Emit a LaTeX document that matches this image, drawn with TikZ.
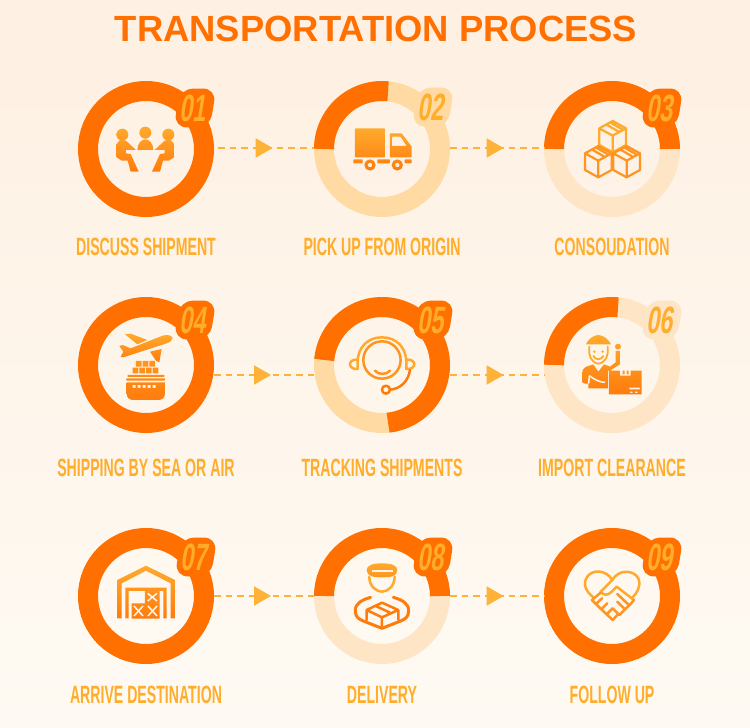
\documentclass[tikz,border=0pt]{standalone}
\usepackage{fontspec}
\setmainfont{Liberation Sans}
\newfontfamily\labelfont[FakeStretch=0.565]{Liberation Sans}
\newfontfamily\tagfont[FakeStretch=0.62]{Liberation Sans}
\usetikzlibrary{arrows.meta,positioning,decorations.markings}
\definecolor{hot}{HTML}{FF7000}
\definecolor{paleA}{HTML}{FFDAA3}
\definecolor{paleB}{HTML}{FDE5C6}
\definecolor{amber}{HTML}{FFAD2B}
\definecolor{flowcol}{HTML}{FFB238}
\definecolor{bgTop}{HTML}{FEF0E2}
\definecolor{bgBot}{HTML}{FEFAF3}
\definecolor{iconTop}{HTML}{FFAA2E}
\definecolor{iconMid}{HTML}{FF9520}
\definecolor{iconBot}{HTML}{FF7C0C}
\definecolor{cutcol}{HTML}{FEF5EB}

\begin{document}
\begin{tikzpicture}[
    x=1pt,y=-1pt,
    ring/.style={circle,draw=hot,line width=20pt,minimum size=116pt,inner sep=0pt},
    ringarc/.style={draw=hot,line width=20pt},
    tag/.style={font=\labelfont\bfseries\fontsize{25}{25}\selectfont,text=amber,inner sep=0pt},
    badge/.style={font=\tagfont\bfseries\fontsize{38}{38}\selectfont,text=amber,fill=hot,rounded corners=13pt,inner xsep=5pt,inner ysep=6pt,xslant=.16,transform shape},
    flow/.style={draw=flowcol,line width=2pt,dash pattern=on 6.7pt off 5pt,postaction={decorate,decoration={markings,mark=at position .57 with {\arrow{Triangle[length=17pt,width=19pt]}}}}},
    iconfill/.style={top color=iconTop,bottom color=iconBot,draw=none},
    iconline/.style={line width=2.5pt,line cap=round,line join=round},
    cut/.style={draw=cutcol,line width=1.5pt}
]
    \path[top color=bgTop,bottom color=bgBot] (0,0) rectangle (750,728);
    \useasboundingbox (0,0) rectangle (750,728);

    \node[font=\bfseries\fontsize{36.4}{36.4}\selectfont,text=hot,inner sep=0pt] (title) at (376,29) {TRANSPORTATION PROCESS};

    \node[ring] (r1) at (146,149) {};
    \node[ring,draw=paleA,right=100pt of r1] (r2) {};
    \node[ring,draw=paleB,right=94pt of r2] (r3) {};
    \node[ring,below=80pt of r1] (r4) {};
    \node[ring,draw=paleA,right=100pt of r4] (r5) {};
    \node[ring,draw=paleB,right=94pt of r5] (r6) {};
    \node[ring,below=95pt of r4] (r7) {};
    \node[ring,draw=paleB,right=100pt of r7] (r8) {};
    \node[ring,right=94pt of r8] (r9) {};

    \draw[ringarc] ([shift={(180:58pt)}]r2.center) arc[start angle=180,end angle=84,radius=58pt];
    \draw[ringarc] ([shift={(180:58pt)}]r3.center) arc[start angle=180,end angle=0,radius=58pt];
    \draw[ringarc] ([shift={(175:58pt)}]r5.center) arc[start angle=175,end angle=-84,radius=58pt];
    \draw[ringarc] ([shift={(180:58pt)}]r6.center) arc[start angle=180,end angle=84,radius=58pt];
    \draw[ringarc] ([shift={(180:58pt)}]r8.center) arc[start angle=180,end angle=0,radius=58pt];

    \node[badge] (n1) at ([shift={(49,-41)}]r1.center) {01};
    \node[badge,fill=paleA] (n2) at ([shift={(51,-42)}]r2.center) {02};
    \node[badge] (n3) at ([shift={(50,-41)}]r3.center) {03};
    \node[badge] (n4) at ([shift={(49,-45)}]r4.center) {04};
    \node[badge] (n5) at ([shift={(51,-45)}]r5.center) {05};
    \node[badge,fill=paleB] (n6) at ([shift={(50,-45)}]r6.center) {06};
    \node[badge] (n7) at ([shift={(50,-39)}]r7.center) {07};
    \node[badge] (n8) at ([shift={(51,-39)}]r8.center) {08};
    \node[badge] (n9) at ([shift={(50,-39)}]r9.center) {09};

    \node[tag,below=21pt of r1] (t1) {DISCUSS SHIPMENT};
    \node[tag,below=21pt of r2] (t2) {PICK UP FROM ORIGIN};
    \node[tag,below=21pt of r3] (t3) {CONSOUDATION};
    \node[tag,below=26pt of r4] (t4) {SHIPPING BY SEA OR AIR};
    \node[tag,below=26pt of r5] (t5) {TRACKING SHIPMENTS};
    \node[tag,below=26pt of r6] (t6) {IMPORT CLEARANCE};
    \node[tag,below=22pt of r7] (t7) {ARRIVE DESTINATION};
    \node[tag,below=22pt of r8] (t8) {DELIVERY};
    \node[tag,below=22pt of r9] (t9) {FOLLOW UP};

    \draw[flow] ([shift={(4,-1)}]r1.east) -- ([shift={(0,-1)}]r2.west);
    \draw[flow] ([shift={(0,-1)}]r2.east) -- ([shift={(0,-1)}]r3.west);
    \draw[flow] ([yshift=-10pt]r4.east) -- ([yshift=-10pt]r5.west);
    \draw[flow] ([yshift=-10pt]r5.east) -- ([yshift=-10pt]r6.west);
    \draw[flow] (r7.east) -- (r8.west);
    \draw[flow] (r8.east) -- (r9.west);

    \begin{scope}[shift={(60,70)},x=.3333pt,y=-.3333pt]
        \path[iconfill] (187,194) circle[radius=18] (256,188) circle[radius=18] (325,194) circle[radius=18]
            (232,240) .. controls (232,220) and (245,208) .. (256,208) .. controls (267,208) and (280,220) .. (280,240) -- cycle
            (170,222) -- (178,212) -- (198,212) -- (228,240) -- (198,240) -- (198,250) -- (212,252) -- (236,305) -- (212,305) -- (203,272) -- (185,272) -- (170,262) -- cycle
            (342,222) -- (334,212) -- (314,212) -- (284,240) -- (314,240) -- (314,250) -- (300,252) -- (276,305) -- (300,305) -- (309,272) -- (327,272) -- (342,262) -- cycle;
        \path[iconfill,even odd rule,rounded corners=.7pt] (885,175) rectangle (975,262)
            (990,190) -- (1025,190) -- (1055,230) -- (1055,262) -- (990,262) -- cycle
            (996,200) -- (1022,200) -- (1040,228) -- (996,228) -- cycle
            (880,268) rectangle (908,280) (952,268) rectangle (990,280) (1034,268) rectangle (1055,280)
            (930,285) circle[radius=17] (930,285) circle[radius=7]
            (1012,285) circle[radius=17] (1012,285) circle[radius=7];
    \end{scope}

    \begin{scope}[shift={(530,70)},x=.3333pt,y=-.3333pt]
        \foreach \cx/\cy/\boxcol in {248/153/iconTop,205/228/iconMid,290/228/iconMid}
            \draw[iconline,line width=2.2pt,draw=\boxcol] (\cx,\cy) -- ++(40,22) -- ++(0,50) -- ++(-40,22) -- ++(-40,-22) -- ++(0,-50) -- cycle
                (\cx-40,\cy+22) -- (\cx,\cy+44) -- (\cx+40,\cy+22) (\cx,\cy+44) -- (\cx,\cy+92)
                (\cx-20,\cy+10) -- (\cx+18,\cy+32) (\cx-8,\cy+4) -- (\cx+30,\cy+26);
    \end{scope}

    \begin{scope}[shift={(60,285)},x=.3333pt,y=-.3333pt]
        \path[iconfill] (178,183) -- (188,180) -- (212,190) -- (300,155) .. controls (315,148) and (332,148) .. (338,158) .. controls (338,166) and (330,172) .. (320,175) -- (190,217) -- (182,215) -- (190,200) -- cycle
            (195,148) -- (212,146) -- (262,165) -- (232,178) -- cycle
            (270,200) -- (305,192) -- (298,232) -- (288,227) -- cycle;
        \path[iconfill,top color=iconMid,even odd rule]
            \foreach \x in {228,248,268} {(\x,228) rectangle ++(17,17)}
            \foreach \x in {218,238,258,278} {(\x,248) rectangle ++(17,17)}
            (203,270) rectangle (313,276) (200,280) rectangle (315,287)
            (200,292) -- (315,292) -- (315,325) .. controls (315,340) and (305,345) .. (295,345) -- (220,345) .. controls (210,345) and (200,340) .. (200,325) -- cycle
            \foreach \x in {218,233,248,263,278} {(\x,300) rectangle ++(9,9)};
    \end{scope}

    \begin{scope}[shift={(60,285)},x=.3333pt,y=-.3333pt]
        \draw[iconline,draw=iconTop] (893,232) .. controls (893,185) and (925,157) .. (966,157) .. controls (1007,157) and (1039,185) .. (1039,232)
            (893,224) .. controls (875,222) and (870,232) .. (870,238) .. controls (870,246) and (880,254) .. (893,252) -- cycle
            (1039,224) .. controls (1057,222) and (1063,232) .. (1063,238) .. controls (1063,246) and (1053,254) .. (1039,252) -- cycle;
        \draw[iconline,draw=iconMid] (966,225) circle[radius=56];
        \draw[iconline,draw=iconMid] (945,257) .. controls (955,270) and (980,270) .. (990,257);
        \draw[iconline,draw=iconBot] (1050,255) .. controls (1045,290) and (1020,312) .. (990,314)
            (978,314) circle[radius=12];
    \end{scope}

    \begin{scope}[shift={(530,285)},x=.3333pt,y=-.3333pt]
        \path[iconfill,even odd rule] (168,178) .. controls (172,165) and (190,150) .. (205,150) .. controls (220,150) and (238,165) .. (243,178) -- cycle
            (157,292) -- (157,262) .. controls (157,252) and (165,245) .. (175,243) -- (190,238) -- (205,260) -- (222,238) -- (240,245) -- (257,232) -- (257,198) -- (270,198) -- (270,238) -- (240,257) -- (234,257) -- (234,310) -- (175,310) -- (175,296) -- (165,296) -- cycle
            (264,185) circle[radius=9]
            (237,257) -- (270,257) -- (270,272) -- (302,272) -- (302,257) -- (335,257) -- (335,328) -- (237,328) -- cycle
            (298,308) rectangle (330,313) (300,320) rectangle (308,324) (315,320) rectangle (323,324);
        \draw[iconline,draw=iconTop,line width=1.8pt] (178,185) -- (178,205) .. controls (180,225) and (195,236) .. (205,236) .. controls (215,236) and (231,225) .. (233,205) -- (233,185)
            (190,213) .. controls (197,226) and (213,226) .. (220,213);
        \fill[iconTop] (193,200) circle[radius=4] (218,200) circle[radius=4];
        \fill[iconMid] (278,257) rectangle (284,268) (290,257) rectangle (296,268);
        \draw[cut] (178,272) .. controls (195,285) and (210,292) .. (225,292) (178,272) -- (176,296);
    \end{scope}

    \begin{scope}[shift={(60,520)},x=.3333pt,y=-.3333pt]
        \path[iconfill,even odd rule] (172,295) -- (172,180) -- (258,137) -- (345,180) -- (345,295) -- (332,295) -- (332,190) -- (258,152) -- (185,190) -- (185,295) -- cycle
            (196,295) -- (196,203) -- (320,203) -- (320,295) -- (310,295) -- (310,213) -- (206,213) -- (206,295) -- cycle
            (255,212) rectangle (299,250) (215,250) rectangle (256,296) (256,250) rectangle (299,296);
        \draw[cut] (263,220) -- (291,243) (291,220) -- (263,243)
            (222,258) -- (249,288) (249,258) -- (222,288)
            (264,258) -- (291,288) (291,258) -- (264,288);
    \end{scope}

    \begin{scope}[shift={(60,520)},x=.3333pt,y=-.3333pt]
        \path[iconfill,bottom color=iconMid] (920,150) .. controls (920,135) and (940,130) .. (966,130) .. controls (992,130) and (1012,135) .. (1012,150) .. controls (1012,170) and (990,172) .. (966,172) .. controls (942,172) and (920,170) .. (920,150) -- cycle;
        \draw[cut] (935,153) -- (998,153);
        \draw[iconline,draw=iconTop] (928,170) .. controls (928,200) and (950,215) .. (966,215) .. controls (982,215) and (1004,200) .. (1004,170);
        \draw[iconline,line width=3pt,draw=iconBot] (932,232) .. controls (905,240) and (886,250) .. (886,272) .. controls (886,290) and (895,297) .. (910,303) -- (966,325) -- (1022,303) .. controls (1037,297) and (1046,290) .. (1046,272) .. controls (1046,250) and (1027,240) .. (1000,232);
        \draw[iconline,draw=iconBot] (966,248) -- (1015,270) -- (966,292) -- (920,270) -- cycle
            (920,270) -- (920,300) (1015,270) -- (1015,300) (966,292) -- (966,325)
            (945,257) -- (990,278);
    \end{scope}

    \begin{scope}[shift={(530,520)},x=.3333pt,y=-.3333pt]
        \draw[iconline,draw=iconTop] (190,232) .. controls (165,212) and (158,190) .. (172,170) .. controls (187,148) and (228,148) .. (247,180)
            .. controls (265,148) and (310,148) .. (325,175) .. controls (335,200) and (320,220) .. (305,235);
        \draw[iconline,draw=iconTop] (247,180) -- (212,215) .. controls (220,228) and (235,226) .. (245,215) -- (260,200) -- (312,240);
        \draw[iconline,draw=iconMid] (212,218) -- (186,240) -- (198,252) -- (216,235)
            (198,252) -- (214,268) -- (232,250) (214,268) -- (230,283) -- (248,265) (230,283) -- (248,300) -- (265,282) -- (248,265)
            (312,240) -- (298,256) -- (262,222) (298,256) -- (285,268) -- (262,245) (285,268) -- (268,285);
    \end{scope}
\end{tikzpicture}
\end{document}
